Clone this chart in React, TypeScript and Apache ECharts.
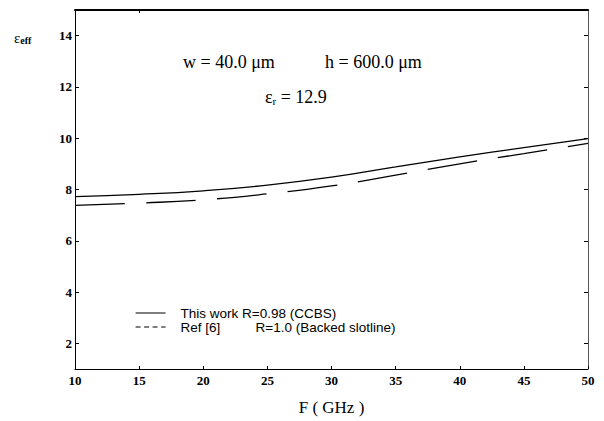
import React, { useEffect, useRef } from "react";
import * as echarts from "echarts";

const freqs = [10, 15, 20, 25, 30, 35, 40, 45, 50];
const thisWork = [7.72, 7.81, 7.95, 8.17, 8.48, 8.88, 9.27, 9.63, 9.98];
const ref6 = [7.38, 7.47, 7.6, 7.83, 8.14, 8.56, 9.0, 9.4, 9.8];
const xTicks = [10, 15, 20, 25, 30, 35, 40, 45, 50];
const yTicks = [2, 4, 6, 8, 10, 12, 14];
const seriesNames = ["This work R=0.98 (CCBS)", "Ref [6] R=1.0 (Backed slotline)"];

const serif = "Liberation Serif";
const sans = "Liberation Sans";

export default function App() {
  const ref = useRef<HTMLDivElement>(null);
  useEffect(() => {
    if (!ref.current) return;
    const chart = echarts.init(ref.current, null, { renderer: "svg" });
    const pair = (ys: number[]) => freqs.map((f, i) => [f, ys[i]]);
    chart.setOption({
      animation: false,
      backgroundColor: "#fff",
      grid: { left: 75, right: 16, top: 10, bottom: 51 },
      xAxis: [
        {
          type: "value",
          min: 10,
          max: 50,
          interval: 5,
          position: "bottom",
          axisLine: { show: true, onZero: false, lineStyle: { color: "#000", width: 1 } },
          axisTick: { show: true, inside: true, length: 3, lineStyle: { color: "#000" } },
          axisLabel: {
            color: "#000",
            fontFamily: serif,
            fontWeight: "bold",
            fontSize: 13,
            margin: 5,
            customValues: xTicks,
          },
          splitLine: { show: false },
          name: "F ( GHz )",
          nameLocation: "middle",
          nameGap: 30,
          nameTextStyle: { color: "#000", fontFamily: serif, fontSize: 17 },
        },
        {
          type: "value",
          min: 10,
          max: 50,
          position: "top",
          axisLine: { show: true, onZero: false, lineStyle: { color: "#000", width: 2 } },
          axisTick: { show: true, inside: true, length: 3, customValues: [15], lineStyle: { color: "#000" } },
          axisLabel: { show: false },
          splitLine: { show: false },
        },
      ],
      yAxis: [
        {
          type: "value",
          min: 1,
          max: 15,
          position: "left",
          axisLine: { show: true, onZero: false, lineStyle: { color: "#000", width: 1 } },
          axisTick: { show: true, inside: true, length: 4, customValues: yTicks, lineStyle: { color: "#000" } },
          axisLabel: {
            color: "#000",
            fontFamily: serif,
            fontWeight: "bold",
            fontSize: 13,
            margin: 3,
            customValues: yTicks,
          },
          splitLine: { show: false },
        },
        {
          type: "value",
          min: 1,
          max: 15,
          position: "right",
          axisLine: { show: true, onZero: false, lineStyle: { color: "#555", width: 1 } },
          axisTick: { show: true, inside: true, length: 4, customValues: yTicks, lineStyle: { color: "#000" } },
          axisLabel: { show: false },
          splitLine: { show: false },
        },
      ],
      legend: {
        show: true,
        orient: "vertical",
        left: 135,
        top: 306,
        padding: 0,
        itemWidth: 30,
        itemHeight: 10,
        itemGap: 0,
        itemStyle: { color: "transparent", borderWidth: 0, opacity: 0 },
        textStyle: {
          color: "#000",
          fontFamily: sans,
          fontSize: 13.5,
          lineHeight: 13.5,
          rich: {
            p: { width: 10 },
            a: { fontFamily: sans, fontSize: 13.5, color: "#000", width: 75, lineHeight: 13.5 },
            b: { fontFamily: sans, fontSize: 13.5, color: "#000", lineHeight: 13.5 },
          },
        },
        formatter: (name: string) => {
          if (name === seriesNames[1]) {
            return "{p|}{a|Ref [6]}{b|R=1.0 (Backed slotline)}";
          }
          return "{p|}{b|" + name + "}";
        },
        data: [
          { name: seriesNames[0], lineStyle: { color: "#000", width: 1 } },
          { name: seriesNames[1], lineStyle: { color: "#000", type: [5, 3.5], width: 1.2 } },
        ],
      },
      graphic: [
        {
          type: "text",
          left: 14,
          top: 30,
          style: {
            text: "{e|ε}{s|eff}",
            rich: {
              e: { fontFamily: serif, fontSize: 15, fill: "#000" },
              s: { fontFamily: serif, fontSize: 10, fontWeight: "bold", fill: "#000", padding: [6, 0, 0, 0] },
            },
          },
        },
        {
          type: "text",
          left: 183,
          top: 53,
          style: { text: "w = 40.0 μm", fontFamily: serif, fontSize: 18, fill: "#000" },
        },
        {
          type: "text",
          left: 325,
          top: 53,
          style: { text: "h = 600.0 μm", fontFamily: serif, fontSize: 18, fill: "#000" },
        },
        {
          type: "text",
          left: 265,
          top: 88,
          style: {
            text: "{e|ε}{s|r}{e| = 12.9}",
            rich: {
              e: { fontFamily: serif, fontSize: 18, fill: "#000" },
              s: { fontFamily: serif, fontSize: 11, fill: "#000", padding: [8, 0, 0, 0] },
            },
          },
        },
      ],
      series: [
        {
          name: seriesNames[0],
          type: "line",
          data: pair(thisWork),
          smooth: true,
          showSymbol: false,
          symbol: "none",
          lineStyle: { color: "#000", width: 1.3, type: "solid" },
          itemStyle: { color: "#000" },
        },
        {
          name: seriesNames[1],
          type: "line",
          data: pair(ref6),
          smooth: true,
          showSymbol: false,
          symbol: "none",
          lineStyle: { color: "#000", width: 1.3, type: [50, 21] },
          itemStyle: { color: "#000" },
        },
      ],
    });
    return () => chart.dispose();
  }, []);
  return (
    <div
      ref={ref}
      style={{ position: "absolute", left: 0, top: 0, width: 604, height: 421 }}
    />
  );
}
